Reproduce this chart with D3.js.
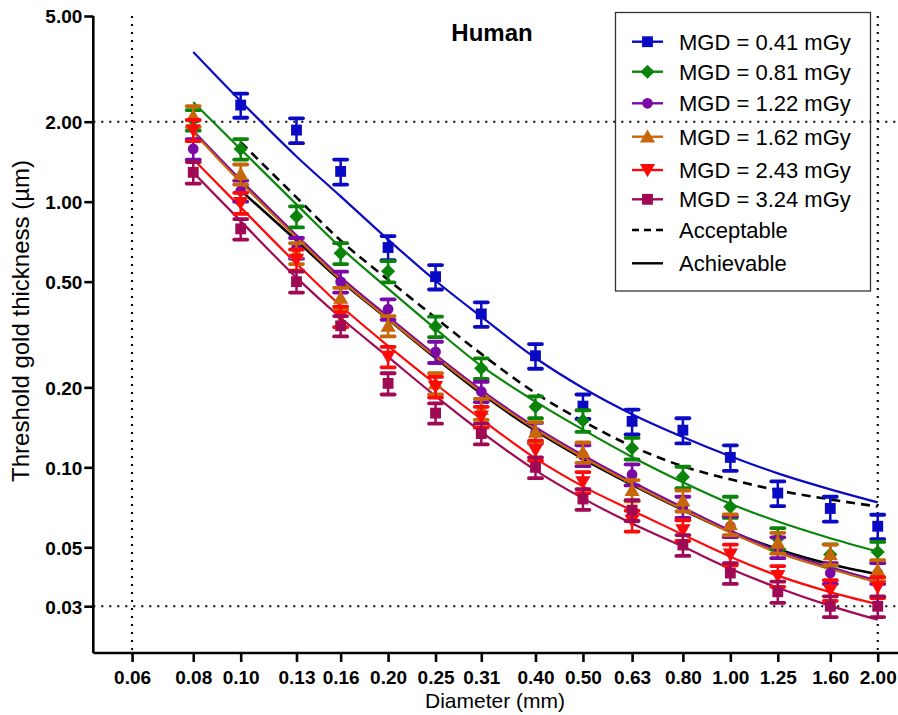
<!DOCTYPE html>
<html>
<head>
<meta charset="utf-8">
<script src="https://cdn.jsdelivr.net/npm/d3@7"></script>
<style>
  html, body { margin: 0; padding: 0; background: #fff; }
  svg { display: block; }
  text { font-family: "Liberation Sans", Arial, Helvetica, sans-serif; }
</style>
</head>
<body>
<svg id="chart" width="898" height="715"></svg>
<script>
// Diameters (mm) and axis tick labels
const diameters = [0.08, 0.10, 0.13, 0.16, 0.20, 0.25, 0.31, 0.40, 0.50, 0.63, 0.80, 1.00, 1.25, 1.60, 2.00];
const xTickValues = [0.06, 0.08, 0.10, 0.13, 0.16, 0.20, 0.25, 0.31, 0.40, 0.50, 0.63, 0.80, 1.00, 1.25, 1.60, 2.00];
const yTickValues = [0.03, 0.05, 0.10, 0.20, 0.50, 1.00, 2.00, 5.00];
const refX = [0.06, 2.00];
const refY = [0.03, 2.00];

// Series labels and colours
const seriesLabels = ["MGD = 0.41 mGy", "MGD = 0.81 mGy", "MGD = 1.22 mGy", "MGD = 1.62 mGy", "MGD = 2.43 mGy", "MGD = 3.24 mGy"];
const seriesColors = ["#0a0ac4", "#0a850a", "#7a0aa6", "#c8660a", "#ff0a0a", "#a00a55"];
const seriesSymbols = ["square", "diamond", "circle", "triangle", "triangleDown", "square"];

// Measured threshold gold thickness (µm), mean and SD, per diameter
const mgd041Mean = [null, 2.31, 1.86, 1.30, 0.672, 0.522, 0.378, 0.263, 0.170, 0.149, 0.138, 0.109, 0.080, 0.070, 0.060];
const mgd041Sd   = [null, 0.24, 0.20, 0.14, 0.070, 0.055, 0.040, 0.028, 0.018, 0.016, 0.015, 0.012, 0.0085, 0.0075, 0.0063];
const mgd081Mean = [2.03, 1.58, 0.88, 0.64, 0.547, 0.339, 0.236, 0.169, 0.150, 0.118, 0.092, 0.071, 0.054, 0.047, 0.048];
const mgd081Sd   = [0.18, 0.14, 0.08, 0.058, 0.050, 0.030, 0.021, 0.016, 0.014, 0.011, 0.0085, 0.0065, 0.005, 0.0043, 0.0044];
const mgd122Mean = [1.58, 1.10, 0.67, 0.50, 0.394, 0.272, 0.193, 0.135, 0.111, 0.094, 0.071, 0.060, 0.050, 0.040, 0.040];
const mgd122Sd   = [0.14, 0.10, 0.06, 0.045, 0.035, 0.025, 0.017, 0.012, 0.010, 0.0085, 0.0065, 0.0054, 0.0045, 0.0036, 0.0036];
const mgd162Mean = [2.10, 1.27, 0.64, 0.434, 0.341, 0.207, 0.166, 0.136, 0.114, 0.082, 0.075, 0.061, 0.052, 0.047, 0.041];
const mgd162Sd   = [0.19, 0.11, 0.058, 0.040, 0.030, 0.019, 0.015, 0.012, 0.010, 0.0075, 0.0068, 0.0055, 0.0047, 0.0042, 0.0037];
const mgd243Mean = [1.86, 0.99, 0.605, 0.37, 0.261, 0.201, 0.155, 0.116, 0.088, 0.063, 0.058, 0.047, 0.039, 0.0345, 0.0354];
const mgd243Sd   = [0.17, 0.09, 0.055, 0.033, 0.023, 0.018, 0.014, 0.010, 0.008, 0.0057, 0.0052, 0.0042, 0.0035, 0.0031, 0.0032];
const mgd324Mean = [1.29, 0.79, 0.50, 0.341, 0.207, 0.160, 0.134, 0.100, 0.076, 0.069, 0.051, 0.040, 0.034, 0.030, 0.030];
const mgd324Sd   = [0.12, 0.07, 0.045, 0.030, 0.019, 0.014, 0.012, 0.009, 0.0068, 0.0062, 0.0046, 0.0036, 0.0031, 0.0027, 0.0027];

// Fitted curves evaluated at each diameter
const mgd041Fit = [3.66, 2.39, 1.48, 1.047, 0.720, 0.504, 0.369, 0.258, 0.199, 0.1585, 0.130, 0.110, 0.0949, 0.0826, 0.0738];
const mgd081Fit = [2.37, 1.576, 0.977, 0.672, 0.4705, 0.332, 0.2407, 0.1768, 0.1386, 0.1094, 0.0878, 0.0729, 0.0625, 0.0541, 0.0482];
const mgd122Fit = [1.848, 1.207, 0.748, 0.5197, 0.3697, 0.2649, 0.1954, 0.1416, 0.111, 0.0882, 0.0706, 0.0578, 0.0486, 0.042, 0.0374];
const mgd162Fit = [1.827, 1.183, 0.733, 0.5086, 0.3623, 0.2603, 0.192, 0.1391, 0.1091, 0.0866, 0.0694, 0.0568, 0.0477, 0.0414, 0.0368];
const mgd243Fit = [1.445, 0.952, 0.5846, 0.4057, 0.2865, 0.2059, 0.1518, 0.1081, 0.0848, 0.0688, 0.0558, 0.0461, 0.0391, 0.0339, 0.0305];
const mgd324Fit = [1.287, 0.845, 0.5176, 0.3655, 0.2603, 0.1854, 0.136, 0.0974, 0.0764, 0.0614, 0.0503, 0.0415, 0.0352, 0.0301, 0.0267];
// Acceptable and achievable limits (from 0.10 mm)
const acceptableFit = [null, 1.675, 1.038, 0.714, 0.5086, 0.3655, 0.2673, 0.1904, 0.1492, 0.120, 0.1009, 0.0901, 0.0819, 0.0757, 0.0712];
const achievableFit = [null, 1.103, 0.714, 0.504, 0.3607, 0.258, 0.1895, 0.1373, 0.1077, 0.0859, 0.0691, 0.0573, 0.0492, 0.0432, 0.0396];

const seriesMeans = [mgd041Mean, mgd081Mean, mgd122Mean, mgd162Mean, mgd243Mean, mgd324Mean];
const seriesSds = [mgd041Sd, mgd081Sd, mgd122Sd, mgd162Sd, mgd243Sd, mgd324Sd];
const seriesFits = [mgd041Fit, mgd081Fit, mgd122Fit, mgd162Fit, mgd243Fit, mgd324Fit];

const svg = d3.select("#chart");
const x = d3.scaleLog().domain([0.05, 2.2]).range([93.3, 898]);
const y = d3.scaleLog().domain([0.02, 5]).range([653, 16]);

// Dotted reference lines
const dotted = svg.append("g").attr("stroke", "#000").attr("stroke-width", 2)
  .attr("stroke-dasharray", "2,6").attr("fill", "none");
refX.forEach(v => dotted.append("line")
  .attr("x1", x(v)).attr("x2", x(v)).attr("y1", y(5)).attr("y2", y(0.02)));
refY.forEach(v => dotted.append("line")
  .attr("x1", x(0.05)).attr("x2", 898).attr("y1", y(v)).attr("y2", y(v)));

// Fitted curves
const line = d3.line()
  .defined(d => d[1] != null)
  .x(d => x(d[0])).y(d => y(d[1]))
  .curve(d3.curveMonotoneX);
const curveGroup = svg.append("g").attr("fill", "none");
function drawCurve(vals, color, dash, width) {
  const pts = diameters.map((d, i) => [d, vals[i]]).filter(p => p[1] != null);
  curveGroup.append("path").attr("d", line(pts))
    .attr("stroke", color).attr("stroke-width", width)
    .attr("stroke-dasharray", dash || null);
}
drawCurve(acceptableFit, "#000", "9,6", 2.6);
drawCurve(achievableFit, "#000", null, 2.6);
seriesFits.forEach((f, i) => drawCurve(f, seriesColors[i], null, 2.2));

// Marker shapes
function symbolPath(kind) {
  if (kind === "square") return d3.symbol(d3.symbolSquare, 118)();
  if (kind === "diamond") return d3.symbol(d3.symbolSquare, 100)();
  if (kind === "circle") return d3.symbol(d3.symbolCircle, 90)();
  return d3.symbol(d3.symbolTriangle, 100)();
}
function drawMarker(g, kind, cx, cy, color) {
  const p = g.append("path").attr("d", symbolPath(kind)).attr("fill", color);
  let rot = "";
  if (kind === "triangleDown") rot = " rotate(180)";
  if (kind === "diamond") rot = " rotate(45)";
  const dy = kind === "triangle" ? 1.5 : (kind === "triangleDown" ? -1.5 : 0);
  p.attr("transform", `translate(${cx},${cy + dy})${rot}`);
}

// Means with SD error bars
seriesMeans.forEach((means, si) => {
  const color = seriesColors[si];
  const g = svg.append("g");
  diameters.forEach((d, i) => {
    const m = means[i];
    if (m == null) return;
    const sd = seriesSds[si][i];
    const cx = x(d);
    const yTop = y(m + sd), yBot = y(m - sd);
    g.append("line").attr("x1", cx).attr("x2", cx).attr("y1", yTop).attr("y2", yBot)
      .attr("stroke", color).attr("stroke-width", 2.5);
    [yTop, yBot].forEach(yy => g.append("line")
      .attr("x1", cx - 6.5).attr("x2", cx + 6.5).attr("y1", yy).attr("y2", yy)
      .attr("stroke", color).attr("stroke-width", 3.8).attr("stroke-linecap", "round"));
    drawMarker(g, seriesSymbols[si], cx, y(m), color);
  });
});

// Axes
const xAxis = d3.axisBottom(x).tickValues(xTickValues)
  .tickFormat(d3.format(".2f")).tickSize(9).tickSizeOuter(0);
const yAxis = d3.axisLeft(y).tickValues(yTickValues)
  .tickFormat(d3.format(".2f")).tickSize(9).tickSizeOuter(0);

const gx = svg.append("g").attr("transform", "translate(0,653)").call(xAxis);
gx.select(".domain").attr("stroke-width", 2.6).attr("d", `M${x(0.05)},0H898`);
gx.selectAll(".tick line").attr("stroke-width", 2.6);
gx.selectAll(".tick text").attr("dy", 0).attr("y", 31)
  .style("font-size", "19px").style("font-weight", "bold").attr("fill", "#000");

const gy = svg.append("g").attr("transform", `translate(${x(0.05)},0)`).call(yAxis);
gy.select(".domain").attr("stroke-width", 2.6).attr("d", `M0,${y(5)}V653`);
gy.selectAll(".tick line").attr("stroke-width", 2.6);
gy.selectAll(".tick text").attr("x", -11).attr("dy", "0.36em")
  .style("font-size", "19px").style("font-weight", "bold").attr("fill", "#000");

// Titles
svg.append("text").attr("x", 492).attr("y", 41).attr("text-anchor", "middle")
  .style("font-size", "24px").style("font-weight", "bold").text("Human");
svg.append("text").attr("x", 495).attr("y", 708).attr("text-anchor", "middle")
  .style("font-size", "21px").text("Diameter (mm)");
svg.append("text").attr("transform", "translate(29,321) rotate(-90)")
  .attr("text-anchor", "middle").style("font-size", "24px")
  .text("Threshold gold thickness (µm)");

// Legend
const legend = svg.append("g");
legend.append("rect").attr("x", 615.5).attr("y", 12.5).attr("width", 255).attr("height", 278.5)
  .attr("fill", "none").attr("stroke", "#333").attr("stroke-width", 1.3);
const rowY = [41.7, 71.7, 103.3, 136.7, 170, 199.3, 230, 263.3];
seriesLabels.forEach((lab, i) => {
  const cy = rowY[i];
  legend.append("line").attr("x1", 632).attr("x2", 663).attr("y1", cy).attr("y2", cy)
    .attr("stroke", seriesColors[i]).attr("stroke-width", 2.4);
  drawMarker(legend, seriesSymbols[i], 647.5, cy, seriesColors[i]);
  legend.append("text").attr("x", 679).attr("y", cy + 8)
    .style("font-size", "22px").text(lab);
});
[["Acceptable", "7,5"], ["Achievable", null]].forEach((e, k) => {
  const cy = rowY[6 + k];
  legend.append("line").attr("x1", 632).attr("x2", 663).attr("y1", cy).attr("y2", cy)
    .attr("stroke", "#000").attr("stroke-width", 2.4).attr("stroke-dasharray", e[1]);
  legend.append("text").attr("x", 679).attr("y", cy + 8)
    .style("font-size", "22px").text(e[0]);
});
</script>
</body>
</html>
